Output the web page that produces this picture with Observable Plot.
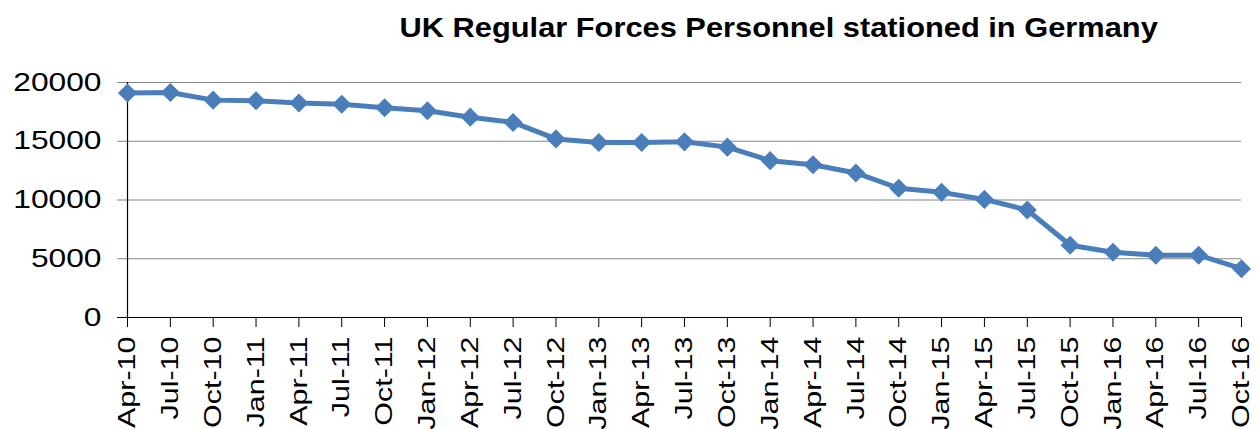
<!DOCTYPE html>
<html>
<head>
<meta charset="utf-8">
<script src="https://cdn.jsdelivr.net/npm/d3@7"></script>
<script src="https://cdn.jsdelivr.net/npm/@observablehq/plot@0.6"></script>
<style>
  html, body { margin: 0; padding: 0; background: #fff; }
  body { width: 1260px; height: 429px; overflow: hidden; font-family: "Liberation Sans", Arial, sans-serif; }
  #title { height: 60px; box-sizing: border-box; padding-top: 14px; padding-left: 297px; text-align: center; }
  #title span { display: inline-block; font-weight: bold; font-size: 28px; line-height: 28px; color: #000; transform: scaleX(1.1); transform-origin: center; white-space: nowrap; }
  #chart svg { display: block; }
</style>
</head>
<body>
<div id="title"><span>UK Regular Forces Personnel stationed in Germany</span></div>
<div id="chart"></div>
<script>
const titleText = "UK Regular Forces Personnel stationed in Germany";
const quarters = ["Apr-10","Jul-10","Oct-10","Jan-11","Apr-11","Jul-11","Oct-11","Jan-12","Apr-12","Jul-12","Oct-12","Jan-13","Apr-13","Jul-13","Oct-13","Jan-14","Apr-14","Jul-14","Oct-14","Jan-15","Apr-15","Jul-15","Oct-15","Jan-16","Apr-16","Jul-16","Oct-16"];
const personnel = [19100,19150,18500,18450,18250,18150,17850,17600,17050,16600,15200,14900,14900,14950,14500,13350,13000,12300,11000,10650,10050,9150,6150,5550,5300,5300,4150];
const yTicks = [0,5000,10000,15000,20000];

const data = quarters.map((q, i) => ({quarter: q, value: personnel[i]}));
const blue = "#4a7ebb";
const gray = "#868686";

const chart = Plot.plot({
  width: 1260,
  height: 369,
  marginTop: 22,
  marginBottom: 112,
  marginLeft: 127,
  marginRight: 19,
  style: {fontFamily: "'Liberation Sans', Arial, sans-serif", fontSize: "25px", color: "#000", background: "#fff"},
  x: {type: "point", domain: quarters, padding: 0, round: false, label: null},
  y: {domain: [0, 20000], label: null},
  marks: [
    Plot.ruleY(yTicks.filter(d => d > 0), {stroke: gray, strokeWidth: 1.2, insetLeft: -10}),
    Plot.ruleY([0], {stroke: "#000", strokeWidth: 1.2, insetLeft: -10}),
    Plot.ruleX([quarters[0]], {y1: 0, y2: 20000, stroke: "#000", strokeWidth: 1.2}),
    Plot.axisY({ticks: yTicks, tickSize: 0, tickPadding: 26, tickFormat: d => String(d), fontSize: 25, label: null}),
    Plot.axisX({tickSize: 10, tickPadding: 9, tickRotate: -90, stroke: "#000", fontSize: 24, label: null}),
    Plot.line(data, {x: "quarter", y: "value", stroke: blue, strokeWidth: 5, strokeLinejoin: "round"}),
    Plot.dot(data, {x: "quarter", y: "value", symbol: "diamond2", r: 8.6, fill: blue, stroke: "none"})
  ]
});
document.getElementById("chart").appendChild(chart);

// widen axis glyphs along their reading direction, as in the reference
const sx = 1.27;
d3.select(chart).selectAll("text").each(function() {
  const t = d3.select(this);
  const tr = t.attr("transform") || "";
  t.attr("transform", `${tr} scale(${sx},1)`);
  const x = t.attr("x");
  if (x != null && x !== "" && !isNaN(+x)) t.attr("x", +x / sx);
  const dx = t.attr("dx");
  if (dx != null && dx !== "" && !isNaN(+dx)) t.attr("dx", +dx / sx);
});
</script>
</body>
</html>
